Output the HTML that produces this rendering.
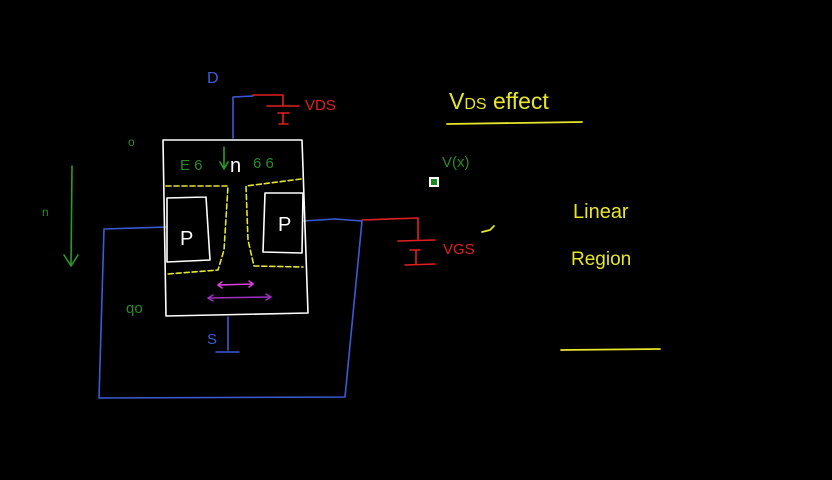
<!DOCTYPE html>
<html><head><meta charset="utf-8"><style>
html,body{margin:0;padding:0;background:#000;width:832px;height:480px;overflow:hidden}
svg{display:block}
text{font-family:"Liberation Sans",sans-serif}
</style></head><body>
<svg width="832" height="480" viewBox="0 0 832 480" xmlns="http://www.w3.org/2000/svg">
<rect width="832" height="480" fill="#000"/>
<g fill="none" stroke-linecap="round" stroke-linejoin="round">
<g stroke="#3b5bd6" stroke-width="1.6">
<polyline points="233,138 233,97 253,96"/>
<polyline points="167,227 104,229 99,398 345,397 362,221"/>
<polyline points="303,221 335,219 362,221"/>
<polyline points="228,317 228,350"/>
<line x1="216" y1="352" x2="239" y2="352"/>
</g>
<g stroke="#e02020" stroke-width="1.6">
<polyline points="253,95 283,95 283,106"/>
<line x1="267" y1="106" x2="299" y2="106"/>
<line x1="278" y1="113" x2="289" y2="113"/>
<line x1="283" y1="113" x2="283" y2="124"/>
<line x1="279" y1="124" x2="288" y2="124"/>
<polyline points="362,220 418,218 418,240"/>
<line x1="398" y1="241" x2="435" y2="240"/>
<line x1="410" y1="250" x2="420" y2="250"/>
<line x1="416" y1="250" x2="416" y2="264"/>
<line x1="405" y1="265" x2="435" y2="264"/>
</g>
<g stroke="#fff" stroke-width="1.6">
<polyline points="163,140 302,140 308,313 166,316 163,140"/>
<polyline points="206,197 167,198 167,262 210,260 206,197"/>
<polyline points="265,193 303,193 302,253 263,252 265,193"/>
</g>
<g stroke="#e6e62a" stroke-width="1.6" stroke-dasharray="5,3">
<polyline points="166,186 228,186 224,250 218,270 168,274"/>
<polyline points="301,179 262,184 246,186 248,240 254,266 303,267"/>
</g>
<g stroke="#e040e0" stroke-width="1.5">
<line x1="218" y1="285" x2="253" y2="284"/>
<polyline points="222,282 218,285 222,288"/><polyline points="249,281 253,284 249,287"/>
</g>
<g stroke="#a030c0" stroke-width="1.5">
<line x1="208" y1="298" x2="271" y2="297"/>
<polyline points="213,295 208,298 213,301"/><polyline points="266,294 271,297 266,300"/>
</g>
<g stroke="#2a9a2a" stroke-width="1.6">
<line x1="72" y1="166" x2="71" y2="265"/>
<polyline points="64,255 71,266 78,255"/>
<line x1="224" y1="147" x2="224" y2="168"/>
<polyline points="220,162 224,169 228,162"/>
</g>
<g stroke="#e6e62a" stroke-width="1.8">
<line x1="447" y1="124" x2="582" y2="122"/>
<line x1="561" y1="350" x2="660" y2="349"/>
<polyline points="482,232 490,230 494,226"/>
</g>
</g>
<rect x="429" y="177" width="10" height="10" fill="#fff"/>
<rect x="431" y="179" width="6" height="6" fill="#1a8a1a"/>
<g font-size="16">
<text x="207" y="83" fill="#3b5bd6">D</text>
<text x="305" y="110" fill="#e02020" font-size="15">VDS</text>
<text x="207" y="344" fill="#3b5bd6" font-size="15">S</text>
<text x="443" y="254" fill="#e02020" font-size="15">VGS</text>
<text x="180" y="170" fill="#2a8a2a" font-size="15">E 6</text>
<text x="253" y="168" fill="#2a8a2a" font-size="15">6 6</text>
<text x="230" y="172" fill="#fff" font-size="20">n</text>
<text x="180" y="245" fill="#fff" font-size="20">P</text>
<text x="278" y="231" fill="#fff" font-size="20">P</text>
<text x="128" y="146" fill="#2a8a2a" font-size="12">o</text>
<text x="42" y="216" fill="#2a8a2a" font-size="12">n</text>
<text x="126" y="313" fill="#2a8a2a" font-size="15">qo</text>
<text x="442" y="167" fill="#2a8a2a" font-size="15">V(x)</text>
<text x="449" y="109" fill="#e6e62a" font-size="23">V<tspan font-size="16">DS</tspan> effect</text>
<text x="573" y="218" fill="#e6e62a" font-size="20">Linear</text>
<text x="571" y="265" fill="#e6e62a" font-size="19">Region</text>
</g>
</svg>
</body></html>
